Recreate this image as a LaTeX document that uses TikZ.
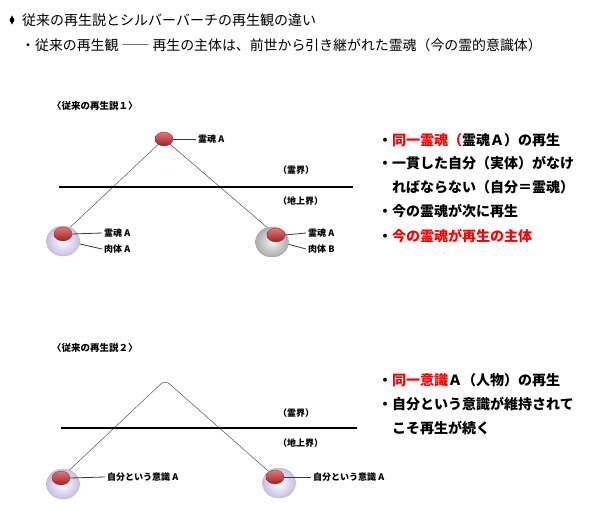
\documentclass[tikz,border=0pt]{standalone}
\usepackage{fontspec}
\setmainfont{Noto Sans CJK JP}
\usetikzlibrary{shapes.geometric}
\pgfdeclarelayer{bg}
\pgfsetlayers{bg,main}
\definecolor{redtxt}{RGB}{255,0,0}
\definecolor{ballhi}{RGB}{225,120,120}
\definecolor{balllo}{RGB}{165,30,35}
\definecolor{balledge}{RGB}{140,40,40}
\definecolor{lav}{RGB}{200,190,228}
\begin{document}
\begin{tikzpicture}[x=1pt,y=-1pt,
  ballred/.style={ellipse, minimum width=18pt, minimum height=14pt, inner sep=0pt,
    draw=balledge, line width=0.3pt, top color=ballhi, bottom color=balllo},
  bodylav/.style={ellipse, minimum width=33pt, minimum height=30pt, inner sep=0pt,
    draw=gray!55, line width=0.4pt, inner color=white, outer color=lav},
  bodygrey/.style={ellipse, minimum width=33pt, minimum height=30pt, inner sep=0pt,
    draw=gray!70, line width=0.4pt, inner color=gray!10, outer color=gray!65},
  lab/.style={font=\fontsize{9}{10}\selectfont\bfseries, anchor=west, inner sep=0pt},
  head/.style={font=\fontsize{9.5}{11}\selectfont\bfseries, anchor=west, inner sep=0pt},
  big/.style={font=\fontsize{14}{16}\selectfont\bfseries, anchor=west, inner sep=0pt},
  conn/.style={draw=gray!65!black, line width=0.5pt},
  leader/.style={draw=gray!45!black, line width=0.8pt},
  hline/.style={draw=black, line width=1.2pt}
]
\useasboundingbox (0,0) rectangle (592,505);
\begin{pgfonlayer}{bg}
  \fill[white] (0,0) rectangle (592,505);
\end{pgfonlayer}

% header
\fill[black] (12,15.5) -- (14.5,20) -- (12,24.5) -- (9.5,20) -- cycle;
\node[anchor=west, inner sep=0pt, font=\fontsize{14}{16}\selectfont] (title) at (22,20) {従来の再生説とシルバーバーチの再生観の違い};
\node[anchor=west, inner sep=0pt, font=\fontsize{13.9}{16}\selectfont] (sub) at (21,45) {・従来の再生観 ―― 再生の主体は、前世から引き継がれた霊魂（今の霊的意識体）};

% ---------- diagram 1 ----------
\node[head] (h1) at (52,106) {〈従来の再生説１〉};
\node[ballred] (top1) at (164,139) {};
\node[bodylav] (lb1) at (63,241) {};
\node[ballred] (lr1) at (63,234) {};
\node[bodygrey] (rb1) at (272,242) {};
\node[ballred] (rr1) at (276,235) {};
\begin{pgfonlayer}{bg}
  \draw[conn] (top1.center) -- (lr1.center);
  \draw[conn] (top1.center) -- (rr1.center);
\end{pgfonlayer}
\coordinate (h1l) at (59,187);
\coordinate (h1r) at (353,187);
\draw[hline] (h1l) -- (h1r);
\node[lab] (rk1) at (278,170) {（霊界）};
\node[lab] (ch1) at (278,201) {（地上界）};

\node[lab] (t1a) at (198,139) {霊魂 A};
\draw[leader] (top1.east) -- ([xshift=-2pt]t1a.west);
\node[lab] (la1) at (104,233) {霊魂 A};
\draw[leader] (lr1.east) -- ([xshift=-2pt]la1.west);
\node[lab] (lb1t) at (104,249) {肉体 A};
\draw[leader] (lb1.-10) -- ([xshift=-2pt]lb1t.west);
\node[lab] (ra1) at (308,233) {霊魂 A};
\draw[leader] (rr1.east) -- ([xshift=-2pt]ra1.west);
\node[lab] (rb1t) at (308,249) {肉体 B};
\draw[leader] (rb1.-8) -- ([xshift=-2pt]rb1t.west);

% right text 1
\node[big] (r11) at (378,140) {・\textcolor{redtxt}{同一霊魂（}霊魂Ａ）の再生};
\node[big] (r12) at (378,163) {・一貫した自分（実体）がなけ};
\node[big] (r13) at (392,187) {ればならない（自分＝霊魂）};
\node[big] (r14) at (378,211) {・今の霊魂が次に再生};
\node[big] (r15) at (378,236) {・\textcolor{redtxt}{今の霊魂が再生の主体}};

% ---------- diagram 2 ----------
\node[head] (h2) at (52,348) {〈従来の再生説２〉};
\node[bodylav] (lb2) at (63,484) {};
\node[ballred] (lr2) at (61,478) {};
\node[bodylav] (rb2) at (279,483) {};
\node[ballred] (rr2) at (275,477) {};
\coordinate (peak) at (165,380);
\begin{pgfonlayer}{bg}
  \draw[conn, rounded corners=6pt] (lr2.center) -- (peak) -- (rr2.center);
\end{pgfonlayer}
\coordinate (h2l) at (61,428);
\coordinate (h2r) at (357,428);
\draw[hline] (h2l) -- (h2r);
\node[lab] (rk2) at (278,413) {（霊界）};
\node[lab] (ch2) at (278,443) {（地上界）};
\node[lab] (la2) at (107,477) {自分という意識 A};
\draw[leader] (lr2.east) -- ([xshift=-2pt]la2.west);
\node[lab] (ra2) at (313,477) {自分という意識 A};
\draw[leader] (rr2.east) -- ([xshift=-2pt]ra2.west);

% right text 2
\node[big] (r21) at (378,380) {・\textcolor{redtxt}{同一意識}Ａ（人物）の再生};
\node[big] (r22) at (378,404) {・自分という意識が維持されて};
\node[big] (r23) at (392,428) {こそ再生が続く};
\end{tikzpicture}
\end{document}
